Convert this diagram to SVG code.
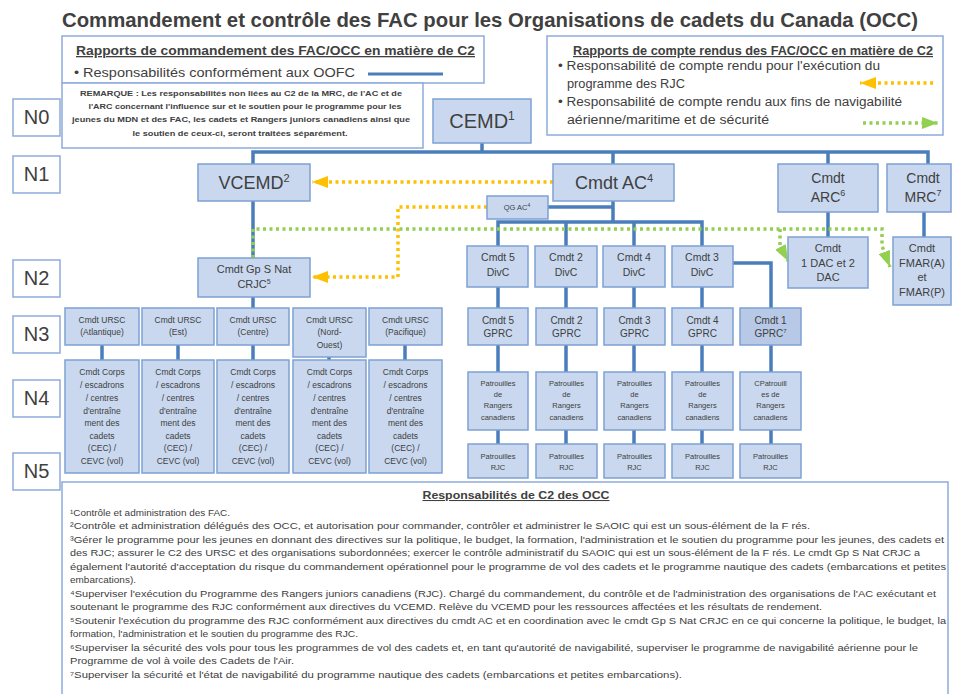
<svg xmlns="http://www.w3.org/2000/svg" width="956" height="694" viewBox="0 0 956 694">
  <defs>
    <style>
      .t { font-family: "Liberation Sans", Arial, sans-serif; fill: #404040; text-anchor: middle; }
      .l { text-anchor: start; }
      .node rect { fill: #C9D8EF; stroke: #7EA1D3; stroke-width: 1.5; }
      .node rect.dk { fill: #B7C9E6; }
      .box { fill: #FFFFFF; stroke: #8EAADB; stroke-width: 1.5; }
      .cn { fill: none; stroke: #4A7EBB; stroke-width: 3.5; stroke-linejoin: miter; }
      .or { fill: none; stroke: #FFC000; stroke-width: 3.5; stroke-dasharray: 3 3.5; }
      .gr { fill: none; stroke: #92D050; stroke-width: 3.5; stroke-dasharray: 3 3.5; }
      .h { font-weight: bold; text-decoration: underline; }
      .fn { font-size: 9.5px; }
    </style>
    <marker id="arrO" viewBox="0 0 16 12" refX="16" refY="6" markerWidth="16" markerHeight="12" markerUnits="userSpaceOnUse" orient="auto">
      <path d="M0,0 L16,6 L0,12 z" fill="#FFC000"/>
    </marker>
    <marker id="arrG" viewBox="0 0 16 12" refX="16" refY="6" markerWidth="16" markerHeight="12" markerUnits="userSpaceOnUse" orient="auto">
      <path d="M0,0 L16,6 L0,12 z" fill="#92D050"/>
    </marker>
  </defs>

  <rect width="956" height="694" fill="#FFFFFF"/>

  <!-- Title -->
  <text class="t" x="490" y="27" font-family="'Open Sans', 'Liberation Sans', sans-serif" font-size="21" font-weight="600" fill="#262626" textLength="856" lengthAdjust="spacingAndGlyphs">Commandement et contrôle des FAC pour les Organisations de cadets du Canada (OCC)</text>

  <!-- Legend: command relationships -->
  <g id="legend-commandement">
    <rect class="box" x="62" y="36" width="422" height="47"/>
    <text class="t l h" x="76" y="55" font-size="13" textLength="399" lengthAdjust="spacingAndGlyphs">Rapports de commandement des FAC/OCC en matière de C2</text>
    <text class="t l" x="74" y="77" font-size="13" fill="#595959" textLength="281" lengthAdjust="spacingAndGlyphs">• Responsabilités conformément aux OOFC</text>
    <line x1="368" y1="74" x2="443" y2="74" stroke="#4A7EBB" stroke-width="3"/>
  </g>

  <!-- Legend: reporting relationships -->
  <g id="legend-compte-rendu">
    <rect class="box" x="547" y="36" width="396" height="99"/>
    <text class="t h" x="753" y="55" font-size="12" textLength="360" lengthAdjust="spacingAndGlyphs">Rapports de compte rendus des FAC/OCC en matière de C2</text>
    <text class="t l" x="558" y="70" font-size="12.5" textLength="322" lengthAdjust="spacingAndGlyphs">• Responsabilité de compte rendu pour l'exécution du</text>
    <text class="t l" x="567" y="88" font-size="12.5" textLength="118" lengthAdjust="spacingAndGlyphs">programme des RJC</text>
    <text class="t l" x="558" y="106" font-size="12.5" textLength="344" lengthAdjust="spacingAndGlyphs">• Responsabilité de compte rendu aux fins de navigabilité</text>
    <text class="t l" x="567" y="124" font-size="12.5" textLength="202" lengthAdjust="spacingAndGlyphs">aérienne/maritime et de sécurité</text>
    <path class="or" d="M933,83 H860" marker-end="url(#arrO)"/>
    <path class="gr" d="M863,123 H938" marker-end="url(#arrG)"/>
  </g>

  <!-- Note -->
  <g id="remarque">
    <rect class="box" x="62" y="83" width="361" height="65"/>
    <text class="t" x="241" y="96" font-size="7" font-weight="bold" textLength="322" lengthAdjust="spacingAndGlyphs">REMARQUE : Les responsabilités non liées au C2 de la MRC, de l'AC et de</text>
    <text class="t" x="245" y="109" font-size="7" font-weight="bold" textLength="313" lengthAdjust="spacingAndGlyphs">l'ARC concernant l'influence sur et le soutien pour le programme pour les</text>
    <text class="t" x="241" y="122" font-size="7" font-weight="bold" textLength="338" lengthAdjust="spacingAndGlyphs">jeunes du MDN et des FAC, les cadets et Rangers juniors canadiens ainsi que</text>
    <text class="t" x="240" y="136" font-size="7" font-weight="bold" textLength="215" lengthAdjust="spacingAndGlyphs">le soutien de ceux-ci, seront traitées séparément.</text>
  </g>

  <!-- Level labels -->
  <g id="niveaux" font-size="20">
    <g id="N0"><rect class="box" x="13" y="99" width="47" height="37"/><text class="t" x="36.5" y="124">N0</text></g>
    <g id="N1"><rect class="box" x="13" y="156" width="47" height="37"/><text class="t" x="36.5" y="181">N1</text></g>
    <g id="N2"><rect class="box" x="13" y="260" width="47" height="37"/><text class="t" x="36.5" y="285">N2</text></g>
    <g id="N3"><rect class="box" x="13" y="316" width="47" height="37"/><text class="t" x="36.5" y="341">N3</text></g>
    <g id="N4"><rect class="box" x="13" y="380" width="47" height="37"/><text class="t" x="36.5" y="405">N4</text></g>
    <g id="N5"><rect class="box" x="13" y="453" width="47" height="37"/><text class="t" x="36.5" y="478">N5</text></g>
  </g>

  <!-- Connectors -->
  <g id="connecteurs">
    <!-- command lines -->
    <path class="cn" d="M482,143 V152"/>
    <path class="cn" d="M253,164 V152 H928 V164"/>
    <path class="cn" d="M613,152 V164"/>
    <path class="cn" d="M828,152 V164"/>
    <path class="cn" d="M253,201 V258"/>
    <path class="cn" d="M253,297 V308"/>
    <path class="cn" d="M828,212 V237"/>
    <path class="cn" d="M924,212 V237"/>
    <path class="cn" d="M548,207 H613"/>
    <path class="cn" d="M613,201 V222"/>
    <path class="cn" d="M498,246 V222 H702 V246"/>
    <path class="cn" d="M566,222 V246"/>
    <path class="cn" d="M634,222 V246"/>
    <path class="cn" d="M733,263 H771 V308"/>
    <!-- DivC to GPRC to patrols -->
    <path class="cn" d="M498,287 V308 M566,287 V308 M634,287 V308 M702,287 V308"/>
    <path class="cn" d="M498,345 V372 M566,345 V372 M634,345 V372 M702,345 V372 M771,345 V372"/>
    <path class="cn" d="M498,430 V444 M566,430 V444 M634,430 V444 M702,430 V444 M771,430 V444"/>
    <!-- URSC to corps / squadrons -->
    <path class="cn" d="M102,345 V360 M178,345 V360 M253,345 V360 M329,357 V360 M405,345 V360"/>
    <!-- reporting lines -->
    <path class="or" d="M553,182 H312" marker-end="url(#arrO)"/>
    <path class="or" d="M487,207 H398 V277 H312" marker-end="url(#arrO)"/>
    <path class="gr" d="M253,258 V229 H882 V246 L890,267" marker-end="url(#arrG)"/>
    <path class="gr" d="M780,229 V246 L788,261" marker-end="url(#arrG)"/>
  </g>

  <!-- N0 -->
  <g id="cemd" class="node">
    <rect x="433" y="99" width="98" height="44"/>
    <text class="t" x="482" y="128" font-size="20">CEMD<tspan dy="-8" font-size="12">1</tspan></text>
  </g>

  <!-- N1 -->
  <g id="vcemd" class="node">
    <rect x="198" y="164" width="112" height="37"/>
    <text class="t" x="254" y="189" font-size="18">VCEMD<tspan dy="-7" font-size="11">2</tspan></text>
  </g>
  <g id="cmdt-ac" class="node">
    <rect x="553" y="164" width="121" height="37"/>
    <text class="t" x="614" y="189" font-size="18">Cmdt AC<tspan dy="-7" font-size="11">4</tspan></text>
  </g>
  <g id="qg-ac" class="node">
    <rect x="487" y="196" width="61" height="23"/>
    <text class="t" x="517" y="210" font-size="7.5">QG AC<tspan dy="-3" font-size="5">4</tspan></text>
  </g>
  <g id="cmdt-arc" class="node">
    <rect x="778" y="164" width="100" height="48"/>
    <text class="t" x="828" y="183" font-size="14">Cmdt</text>
    <text class="t" x="828" y="202" font-size="14">ARC<tspan dy="-6" font-size="9">6</tspan></text>
  </g>
  <g id="cmdt-mrc" class="node">
    <rect x="887" y="164" width="64" height="48"/>
    <text class="t" x="923" y="183" font-size="14">Cmdt</text>
    <text class="t" x="923" y="202" font-size="14">MRC<tspan dy="-6" font-size="9">7</tspan></text>
  </g>

  <!-- N2 -->
  <g id="cmdt-gp-s-nat" class="node">
    <rect x="198" y="258" width="112" height="39"/>
    <text class="t" x="254" y="273" font-size="11">Cmdt Gp S Nat</text>
    <text class="t" x="254" y="288" font-size="11">CRJC<tspan dy="-4" font-size="7">5</tspan></text>
  </g>
  <g id="cmdt-1dac" class="node">
    <rect x="788" y="237" width="80" height="51"/>
    <text class="t" x="828" y="252" font-size="11">Cmdt</text>
    <text class="t" x="828" y="267" font-size="11">1 DAC et 2</text>
    <text class="t" x="828" y="281" font-size="11">DAC</text>
  </g>
  <g id="cmdt-fmar" class="node">
    <rect x="893" y="237" width="58" height="68"/>
    <text class="t" x="922" y="252" font-size="11">Cmdt</text>
    <text class="t" x="922" y="267" font-size="11">FMAR(A)</text>
    <text class="t" x="922" y="281" font-size="11">et</text>
    <text class="t" x="922" y="296" font-size="11">FMAR(P)</text>
  </g>
  <g id="cmdt-5-divc" class="node">
    <rect x="467" y="246" width="61" height="41"/>
    <text class="t" x="498" y="261" font-size="10.5">Cmdt 5</text>
    <text class="t" x="498" y="276" font-size="10.5">DivC</text>
  </g>
  <g id="cmdt-2-divc" class="node">
    <rect x="535" y="246" width="62" height="41"/>
    <text class="t" x="566" y="261" font-size="10.5">Cmdt 2</text>
    <text class="t" x="566" y="276" font-size="10.5">DivC</text>
  </g>
  <g id="cmdt-4-divc" class="node">
    <rect x="603" y="246" width="62" height="41"/>
    <text class="t" x="634" y="261" font-size="10.5">Cmdt 4</text>
    <text class="t" x="634" y="276" font-size="10.5">DivC</text>
  </g>
  <g id="cmdt-3-divc" class="node">
    <rect x="672" y="246" width="61" height="41"/>
    <text class="t" x="702" y="261" font-size="10.5">Cmdt 3</text>
    <text class="t" x="702" y="276" font-size="10.5">DivC</text>
  </g>

  <!-- N3: regional support units -->
  <g font-size="8.5">
    <g id="ursc-atlantique" class="node">
      <rect x="65" y="308" width="74" height="37"/>
      <text class="t" x="102" y="323">Cmdt URSC</text>
      <text class="t" x="102" y="335">(Atlantique)</text>
    </g>
    <g id="ursc-est" class="node">
      <rect x="142" y="308" width="72" height="37"/>
      <text class="t" x="178" y="323">Cmdt URSC</text>
      <text class="t" x="178" y="335">(Est)</text>
    </g>
    <g id="ursc-centre" class="node">
      <rect x="217" y="308" width="72" height="37"/>
      <text class="t" x="253" y="323">Cmdt URSC</text>
      <text class="t" x="253" y="335">(Centre)</text>
    </g>
    <g id="ursc-nord-ouest" class="node">
      <rect x="293" y="308" width="73" height="49"/>
      <text class="t" x="329.5" y="323">Cmdt URSC</text>
      <text class="t" x="329.5" y="335">(Nord-</text>
      <text class="t" x="329.5" y="348">Ouest)</text>
    </g>
    <g id="ursc-pacifique" class="node">
      <rect x="369" y="308" width="73" height="37"/>
      <text class="t" x="405.5" y="323">Cmdt URSC</text>
      <text class="t" x="405.5" y="335">(Pacifique)</text>
    </g>
  </g>

  <!-- N3: patrol groups -->
  <g font-size="10">
    <g id="cmdt-5-gprc" class="node">
      <rect x="468" y="308" width="60" height="37"/>
      <text class="t" x="498" y="324">Cmdt 5</text>
      <text class="t" x="498" y="337">GPRC</text>
    </g>
    <g id="cmdt-2-gprc" class="node">
      <rect x="536" y="308" width="61" height="37"/>
      <text class="t" x="566.5" y="324">Cmdt 2</text>
      <text class="t" x="566.5" y="337">GPRC</text>
    </g>
    <g id="cmdt-3-gprc" class="node">
      <rect x="604" y="308" width="61" height="37"/>
      <text class="t" x="634.5" y="324">Cmdt 3</text>
      <text class="t" x="634.5" y="337">GPRC</text>
    </g>
    <g id="cmdt-4-gprc" class="node">
      <rect x="672" y="308" width="61" height="37"/>
      <text class="t" x="702.5" y="324">Cmdt 4</text>
      <text class="t" x="702.5" y="337">GPRC</text>
    </g>
    <g id="cmdt-1-gprc" class="node">
      <rect class="dk" x="740" y="308" width="61" height="37"/>
      <text class="t" x="770.5" y="324">Cmdt 1</text>
      <text class="t" x="770.5" y="337">GPRC<tspan dy="-4" font-size="6">7</tspan></text>
    </g>
  </g>

  <!-- N4: corps / squadrons / training centres -->
  <g font-size="8.5">
    <g id="corps-atlantique" class="node">
      <rect x="65" y="360" width="74" height="113"/>
      <text class="t" x="102" y="375">Cmdt Corps</text><text class="t" x="102" y="388">/ escadrons</text><text class="t" x="102" y="401">/ centres</text><text class="t" x="102" y="414">d'entraîne</text><text class="t" x="102" y="426">ment des</text><text class="t" x="102" y="439">cadets</text><text class="t" x="102" y="451">(CEC) /</text><text class="t" x="102" y="464">CEVC (vol)</text>
    </g>
    <g id="corps-est" class="node">
      <rect x="142" y="360" width="72" height="113"/>
      <text class="t" x="178" y="375">Cmdt Corps</text><text class="t" x="178" y="388">/ escadrons</text><text class="t" x="178" y="401">/ centres</text><text class="t" x="178" y="414">d'entraîne</text><text class="t" x="178" y="426">ment des</text><text class="t" x="178" y="439">cadets</text><text class="t" x="178" y="451">(CEC) /</text><text class="t" x="178" y="464">CEVC (vol)</text>
    </g>
    <g id="corps-centre" class="node">
      <rect x="217" y="360" width="72" height="113"/>
      <text class="t" x="253" y="375">Cmdt Corps</text><text class="t" x="253" y="388">/ escadrons</text><text class="t" x="253" y="401">/ centres</text><text class="t" x="253" y="414">d'entraîne</text><text class="t" x="253" y="426">ment des</text><text class="t" x="253" y="439">cadets</text><text class="t" x="253" y="451">(CEC) /</text><text class="t" x="253" y="464">CEVC (vol)</text>
    </g>
    <g id="corps-nord-ouest" class="node">
      <rect x="293" y="360" width="73" height="113"/>
      <text class="t" x="329.5" y="375">Cmdt Corps</text><text class="t" x="329.5" y="388">/ escadrons</text><text class="t" x="329.5" y="401">/ centres</text><text class="t" x="329.5" y="414">d'entraîne</text><text class="t" x="329.5" y="426">ment des</text><text class="t" x="329.5" y="439">cadets</text><text class="t" x="329.5" y="451">(CEC) /</text><text class="t" x="329.5" y="464">CEVC (vol)</text>
    </g>
    <g id="corps-pacifique" class="node">
      <rect x="369" y="360" width="73" height="113"/>
      <text class="t" x="405.5" y="375">Cmdt Corps</text><text class="t" x="405.5" y="388">/ escadrons</text><text class="t" x="405.5" y="401">/ centres</text><text class="t" x="405.5" y="414">d'entraîne</text><text class="t" x="405.5" y="426">ment des</text><text class="t" x="405.5" y="439">cadets</text><text class="t" x="405.5" y="451">(CEC) /</text><text class="t" x="405.5" y="464">CEVC (vol)</text>
    </g>
  </g>

  <!-- N4: Canadian Ranger patrols -->
  <g font-size="7.5">
    <g id="patrouilles-5" class="node">
      <rect x="468" y="372" width="60" height="58"/>
      <text class="t" x="498" y="386">Patrouilles</text><text class="t" x="498" y="397">de</text><text class="t" x="498" y="408">Rangers</text><text class="t" x="498" y="420">canadiens</text>
    </g>
    <g id="patrouilles-2" class="node">
      <rect x="536" y="372" width="61" height="58"/>
      <text class="t" x="566.5" y="386">Patrouilles</text><text class="t" x="566.5" y="397">de</text><text class="t" x="566.5" y="408">Rangers</text><text class="t" x="566.5" y="420">canadiens</text>
    </g>
    <g id="patrouilles-3" class="node">
      <rect x="604" y="372" width="61" height="58"/>
      <text class="t" x="634.5" y="386">Patrouilles</text><text class="t" x="634.5" y="397">de</text><text class="t" x="634.5" y="408">Rangers</text><text class="t" x="634.5" y="420">canadiens</text>
    </g>
    <g id="patrouilles-4" class="node">
      <rect x="672" y="372" width="61" height="58"/>
      <text class="t" x="702.5" y="386">Patrouilles</text><text class="t" x="702.5" y="397">de</text><text class="t" x="702.5" y="408">Rangers</text><text class="t" x="702.5" y="420">canadiens</text>
    </g>
    <g id="patrouilles-1" class="node">
      <rect x="740" y="372" width="61" height="58"/>
      <text class="t" x="770.5" y="386">CPatrouill</text><text class="t" x="770.5" y="397">es de</text><text class="t" x="770.5" y="408">Rangers</text><text class="t" x="770.5" y="420">canadiens</text>
    </g>
  </g>

  <!-- N5: Junior Canadian Ranger patrols -->
  <g font-size="7.5">
    <g id="rjc-5" class="node"><rect x="468" y="444" width="60" height="34"/><text class="t" x="498" y="459">Patrouilles</text><text class="t" x="498" y="470">RJC</text></g>
    <g id="rjc-2" class="node"><rect x="536" y="444" width="61" height="34"/><text class="t" x="566.5" y="459">Patrouilles</text><text class="t" x="566.5" y="470">RJC</text></g>
    <g id="rjc-3" class="node"><rect x="604" y="444" width="61" height="34"/><text class="t" x="634.5" y="459">Patrouilles</text><text class="t" x="634.5" y="470">RJC</text></g>
    <g id="rjc-4" class="node"><rect x="672" y="444" width="61" height="34"/><text class="t" x="702.5" y="459">Patrouilles</text><text class="t" x="702.5" y="470">RJC</text></g>
    <g id="rjc-1" class="node"><rect x="740" y="444" width="61" height="34"/><text class="t" x="770.5" y="459">Patrouilles</text><text class="t" x="770.5" y="470">RJC</text></g>
  </g>

  <!-- Footnotes -->
  <g id="responsabilites">
    <rect class="box" x="62" y="482" width="886" height="230"/>
    <text class="t h" x="516" y="499" font-size="10.5" textLength="187" lengthAdjust="spacingAndGlyphs">Responsabilités de C2 des OCC</text>
    <text class="t l fn" x="70" y="515.5" textLength="160" lengthAdjust="spacingAndGlyphs">¹Contrôle et administration des FAC.</text>
    <text class="t l fn" x="70" y="529" textLength="740" lengthAdjust="spacingAndGlyphs">²Contrôle et administration délégués des OCC, et autorisation pour commander, contrôler et administrer le SAOIC qui est un sous-élément de la F rés.</text>
    <text class="t l fn" x="70" y="542.5" textLength="874" lengthAdjust="spacingAndGlyphs">³Gérer le programme pour les jeunes en donnant des directives sur la politique, le budget, la formation, l'administration et le soutien du programme pour les jeunes, des cadets et</text>
    <text class="t l fn" x="70" y="556" textLength="850" lengthAdjust="spacingAndGlyphs">des RJC; assurer le C2 des URSC et des organisations subordonnées; exercer le contrôle administratif du SAOIC qui est un sous-élément de la F rés. Le cmdt Gp S Nat CRJC a</text>
    <text class="t l fn" x="70" y="569.5" textLength="876" lengthAdjust="spacingAndGlyphs">également l'autorité d'acceptation du risque du commandement opérationnel pour le programme de vol des cadets et le programme nautique des cadets (embarcations et petites</text>
    <text class="t l fn" x="70" y="583" textLength="66" lengthAdjust="spacingAndGlyphs">embarcations).</text>
    <text class="t l fn" x="70" y="596.5" textLength="866" lengthAdjust="spacingAndGlyphs">⁴Superviser l'exécution du Programme des Rangers juniors canadiens (RJC). Chargé du commandement, du contrôle et de l'administration des organisations de l'AC exécutant et</text>
    <text class="t l fn" x="70" y="610" textLength="752" lengthAdjust="spacingAndGlyphs">soutenant le programme des RJC conformément aux directives du VCEMD. Relève du VCEMD pour les ressources affectées et les résultats de rendement.</text>
    <text class="t l fn" x="70" y="623.5" textLength="876" lengthAdjust="spacingAndGlyphs">⁵Soutenir l'exécution du programme des RJC conformément aux directives du cmdt AC et en coordination avec le cmdt Gp S Nat CRJC en ce qui concerne la politique, le budget, la</text>
    <text class="t l fn" x="70" y="637" textLength="288" lengthAdjust="spacingAndGlyphs">formation, l'administration et le soutien du programme des RJC.</text>
    <text class="t l fn" x="70" y="650.5" textLength="848" lengthAdjust="spacingAndGlyphs">⁶Superviser la sécurité des vols pour tous les programmes de vol des cadets et, en tant qu'autorité de navigabilité, superviser le programme de navigabilité aérienne pour le</text>
    <text class="t l fn" x="70" y="664" textLength="224" lengthAdjust="spacingAndGlyphs">Programme de vol à voile des Cadets de l'Air.</text>
    <text class="t l fn" x="70" y="677.5" textLength="612" lengthAdjust="spacingAndGlyphs">⁷Superviser la sécurité et l'état de navigabilité du programme nautique des cadets (embarcations et petites embarcations).</text>
  </g>
</svg>
